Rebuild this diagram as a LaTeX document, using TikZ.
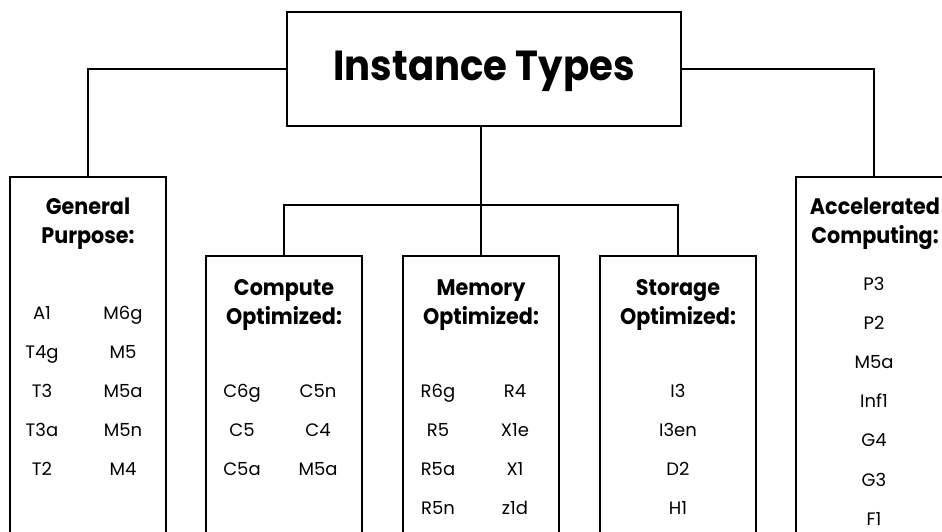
\documentclass[tikz,border=0pt]{standalone}
\usepackage{fontspec}
\setmainfont{Poppins}
\newfontfamily\headfont[FakeStretch=0.92]{Poppins}
\begin{document}
\begin{tikzpicture}[x=1pt,y=-1pt,
  box/.style={draw=black,line width=1.8pt,anchor=north,minimum width=156pt,inner sep=0pt},
  col/.style={draw=black,line width=1.8pt,anchor=north,minimum width=156pt,minimum height=420pt,inner sep=0pt},
  conn/.style={draw=black,line width=1.5pt},
  head/.style={align=center,font=\headfont\bfseries\fontsize{22.5}{28.5}\selectfont,inner sep=0pt,anchor=base},
  item/.style={font=\fontsize{18}{20}\selectfont,inner sep=0pt,anchor=base}]
\useasboundingbox (0,0) rectangle (942,531);
\clip (0,0) rectangle (942,531);
% title
\node[box,minimum width=394pt,minimum height=114pt] (title) at (484,11) {};
\node[font=\headfont\bfseries\fontsize{42}{50}\selectfont,anchor=base,inner sep=0pt] (titletxt) at (484,80) {Instance Types};
% columns
\node[col] (gp) at (88,176) {};
\node[col] (acc) at (874,176) {};
\node[col] (comp) at (284,255) {};
\node[col] (mem) at (481,255) {};
\node[col] (stor) at (678,255) {};
% connectors
\draw[conn] (title.west) -| (gp.north);
\draw[conn] (title.east) -| (acc.north);
\draw[conn] (mem.north |- title.south) -- (mem.north);
\coordinate (bus) at (481,205);
\draw[conn] (comp.north) |- (bus) -| (stor.north);
% headings (anchor at baseline of last line)
\node[head] (gph) at (88,243) {General\\Purpose:};
\node[head] (acch) at (875,243) {Accelerated\\Computing:};
\node[head] (comph) at (284,324) {Compute\\Optimized:};
\node[head] (memh) at (481,324) {Memory\\Optimized:};
\node[head] (storh) at (678,324) {Storage\\Optimized:};
% general purpose items
\foreach \a/\b [count=\i from 0] in {A1/M6g,T4g/M5,T3/M5a,T3a/M5n,T2/M4}{
  \node[item] (gpa\i) at (42,{319+39*\i}) {\a};
  \node[item] (gpb\i) at (123,{319+39*\i}) {\b};
}
% compute items
\foreach \a/\b [count=\i from 0] in {C6g/C5n,C5/C4,C5a/M5a}{
  \node[item] (ca\i) at (242,{397+39*\i}) {\a};
  \node[item] (cb\i) at (318,{397+39*\i}) {\b};
}
% memory items
\foreach \a/\b [count=\i from 0] in {R6g/R4,R5/X1e,R5a/X1,R5n/z1d}{
  \node[item] (ma\i) at (438,{397+39*\i}) {\a};
  \node[item] (mb\i) at (515,{397+39*\i}) {\b};
}
% storage items
\foreach \a [count=\i from 0] in {I3,I3en,D2,H1}{
  \node[item] (s\i) at (678,{397+39*\i}) {\a};
}
% accelerated items
\foreach \a [count=\i from 0] in {P3,P2,M5a,Inf1,G4,G3,F1}{
  \node[item] (ac\i) at (874,{290+39.2*\i}) {\a};
}
\end{tikzpicture}
\end{document}
